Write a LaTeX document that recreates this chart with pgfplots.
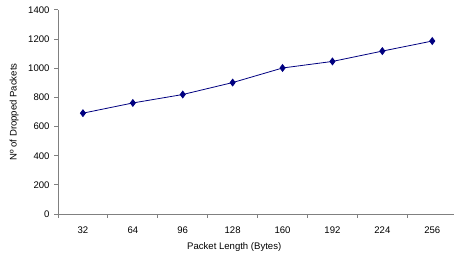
\documentclass[border=0pt]{standalone}
\usepackage{pgfplots}
\pgfplotsset{compat=1.18}
\usepackage{fontspec}
\setmainfont{Liberation Sans}
\definecolor{navy}{HTML}{000080}
\definecolor{axgray}{HTML}{808080}
\begin{document}
\begin{tikzpicture}[x=1bp,y=1bp]
\begin{axis}[
  at={(0,0)}, anchor=south west,
  scale only axis, width=396bp, height=204bp,
  xmin=-0.5, xmax=7.436, ymin=0, ymax=1400,
  axis x line*=bottom, axis y line*=left,
  axis line style={axgray, line width=1bp, -},
  xtick={0,...,7},
  xticklabels={32,64,96,128,160,192,224,256},
  minor xtick={-0.5,0.5,...,6.5},
  major x tick style={draw=none},
  minor tick length=3.5bp,
  major tick length=3.5bp,
  tick style={axgray, line width=1bp},
  tick align=outside,
  ytick={0,200,...,1400},
  font=\fontsize{9.6}{11}\selectfont,
  /pgf/number format/assume math mode=true,
  /pgf/number format/1000 sep={},
  yticklabel style={xshift=-1.5bp},
  xticklabel style={yshift=-6bp},
  xlabel={Packet Length (Bytes)},
  ylabel={Nº of Dropped Packets},
  every axis x label/.style={at={(axis description cs:0.445,-0.162)}, anchor=center},
  every axis y label/.style={at={(axis description cs:-0.111,0.5)}, rotate=90, anchor=center},
  clip=false,
]
\addplot[navy, line width=0.8pt, mark=diamond*, mark size=3.4bp, mark options={fill=navy, draw=navy}]
  coordinates {(0,692) (1,762) (2,820) (3,902) (4,1002) (5,1047) (6,1118) (7,1187)};
\end{axis}
\pgfresetboundingbox
\path[use as bounding box] (-58bp,-46bp) rectangle (396bp,214bp);
\end{tikzpicture}
\end{document}
